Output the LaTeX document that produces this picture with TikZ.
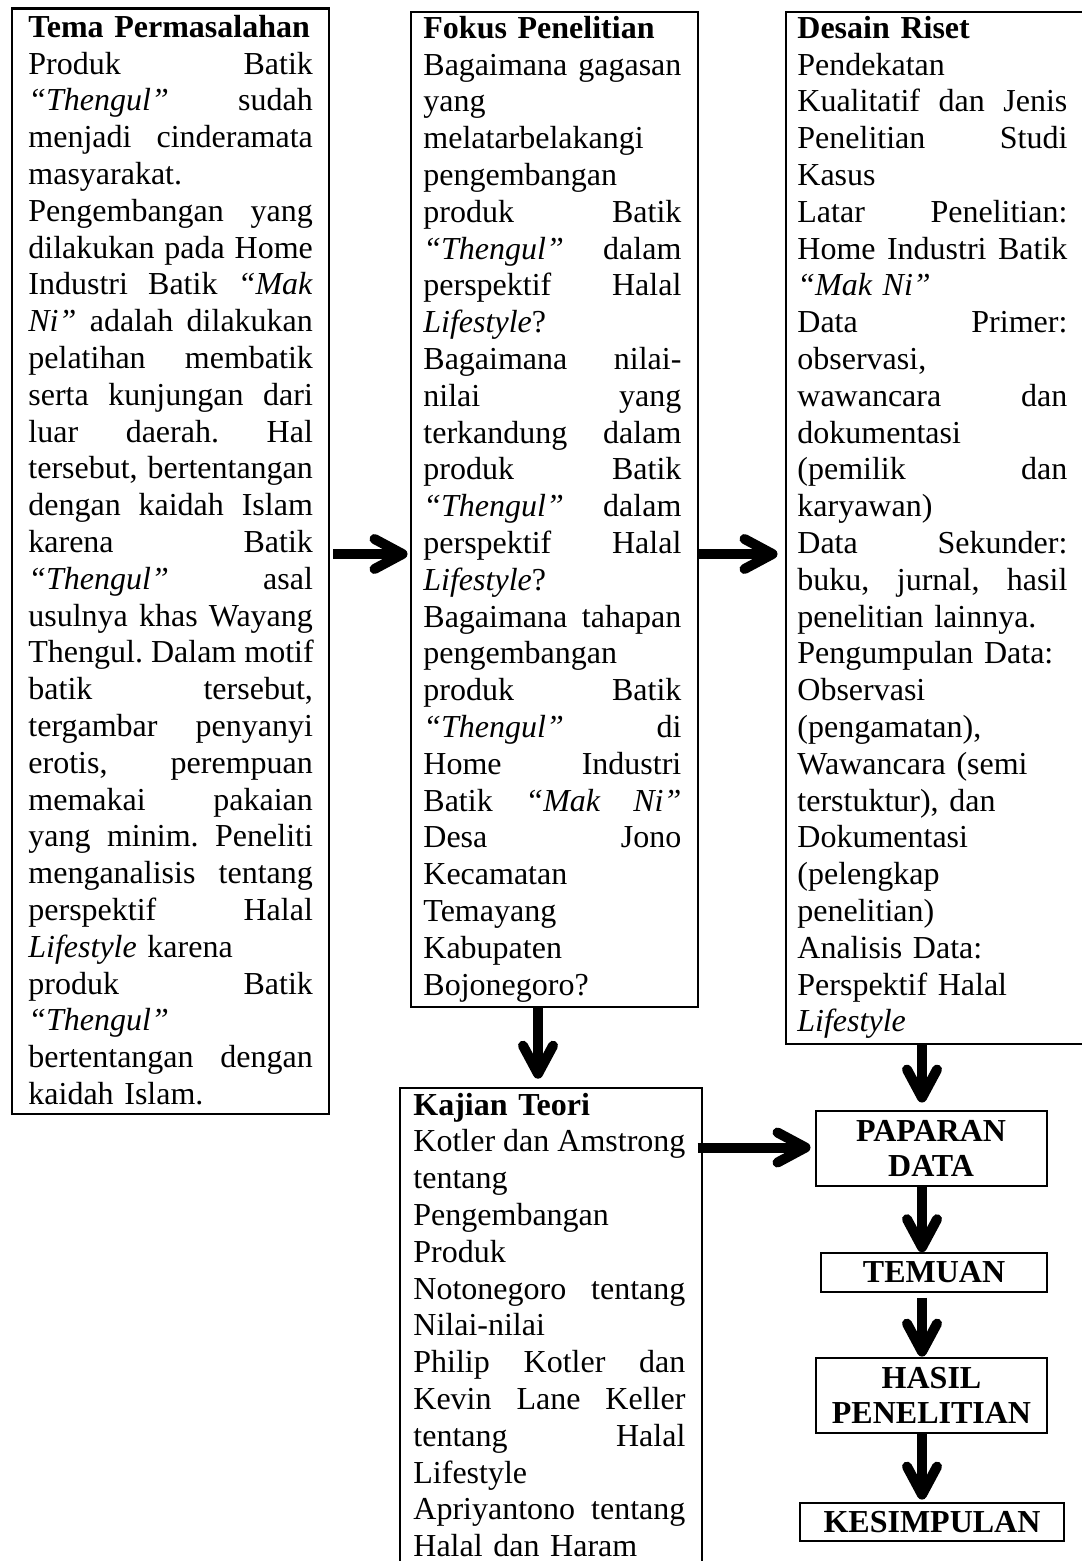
\documentclass[tikz,border=0pt]{standalone}
\usepackage{fontspec}
\setmainfont{Liberation Serif}
\usetikzlibrary{arrows.meta,calc}
\newcommand\Jl[1]{\leavevmode\hbox to \hsize{\spaceskip=0.25em plus 1fil\relax #1}}
\frenchspacing
\begin{document}
\begin{tikzpicture}[x=0.5pt,y=-0.5pt,
  boxline/.style={draw, line width=1.1pt},
  frame/.style={boxline, inner sep=0pt, anchor=north west},
  bodytext/.style={anchor=base west, inner sep=0pt, align=left,
    font=\fontsize{16}{18.4}\selectfont},
  result/.style={boxline, inner sep=0pt, align=center,
    font=\bfseries\fontsize{16}{17.5}\selectfont},
  bigarrow/.style={line width=5pt,
    -{Straight Barb[length=14pt,width=15pt,line width=5pt,round]}}]
\fill[white] (0,0) rectangle (1081,1561);
\useasboundingbox (0,0) rectangle (1081,1561);

% frames
\node[frame, minimum width=158.75pt, minimum height=552.75pt] (box1) at (10.5,7.5) {};
\node[frame, minimum width=143.5pt, minimum height=497.25pt] (box2) at (409.5,11) {};
\node[frame, minimum width=152.75pt, minimum height=516pt] (box3) at (784.5,11) {};
\node[frame, minimum width=151pt, minimum height=246.65pt] (kajian) at (398.5,1086.7) {};

% texts
\node[bodytext, text width=142.25pt] (t1) at (28,37.3) {%
\textbf{Tema Permasalahan}\\
\Jl{Produk Batik}\\
\Jl{\textit{“Thengul”} sudah}\\
\Jl{menjadi cinderamata}\\
masyarakat.\\
\Jl{Pengembangan yang}\\
\Jl{dilakukan pada Home}\\
\Jl{Industri Batik \textit{“Mak}}\\
\Jl{\textit{Ni”} adalah dilakukan}\\
\Jl{pelatihan membatik}\\
\Jl{serta kunjungan dari}\\
\Jl{luar daerah. Hal}\\
\Jl{tersebut, bertentangan}\\
\Jl{dengan kaidah Islam}\\
\Jl{karena Batik}\\
\Jl{\textit{“Thengul”} asal}\\
\Jl{usulnya khas Wayang}\\
\Jl{Thengul. Dalam motif}\\
\Jl{batik tersebut,}\\
\Jl{tergambar penyanyi}\\
\Jl{erotis, perempuan}\\
\Jl{memakai pakaian}\\
\Jl{yang minim. Peneliti}\\
\Jl{menganalisis tentang}\\
\Jl{perspektif Halal}\\
\textit{Lifestyle} karena\\
\Jl{produk Batik}\\
\textit{“Thengul”}\\
\Jl{bertentangan dengan}\\
kaidah Islam.};

\node[bodytext, text width=129pt] (t2) at (423,38.3) {%
\textbf{Fokus Penelitian}\\
\Jl{Bagaimana gagasan}\\
yang\\
melatarbelakangi\\
pengembangan\\
\Jl{produk Batik}\\
\Jl{\textit{“Thengul”} dalam}\\
\Jl{perspektif Halal}\\
\textit{Lifestyle}?\\
\Jl{Bagaimana nilai-}\\
\Jl{nilai yang}\\
\Jl{terkandung dalam}\\
\Jl{produk Batik}\\
\Jl{\textit{“Thengul”} dalam}\\
\Jl{perspektif Halal}\\
\textit{Lifestyle}?\\
\Jl{Bagaimana tahapan}\\
pengembangan\\
\Jl{produk Batik}\\
\Jl{\textit{“Thengul”} di}\\
\Jl{Home Industri}\\
\Jl{Batik \textit{“Mak} \textit{Ni”}}\\
\Jl{Desa Jono}\\
Kecamatan\\
Temayang\\
Kabupaten\\
Bojonegoro?};

\node[bodytext, text width=135pt] (t3) at (797,38.3) {%
\textbf{Desain Riset}\\
Pendekatan\\
\Jl{Kualitatif dan Jenis}\\
\Jl{Penelitian Studi}\\
Kasus\\
\Jl{Latar Penelitian:}\\
\Jl{Home Industri Batik}\\
\textit{“Mak Ni”}\\
\Jl{Data Primer:}\\
observasi,\\
\Jl{wawancara dan}\\
dokumentasi\\
\Jl{(pemilik dan}\\
karyawan)\\
\Jl{Data Sekunder:}\\
\Jl{buku, jurnal, hasil}\\
penelitian lainnya.\\
Pengumpulan Data:\\
Observasi\\
(pengamatan),\\
Wawancara (semi\\
terstuktur), dan\\
Dokumentasi\\
(pelengkap\\
penelitian)\\
Analisis Data:\\
Perspektif Halal\\
\textit{Lifestyle}};

\node[bodytext, text width=136pt] (t4) at (413,1115) {%
\textbf{Kajian Teori}\\
\Jl{Kotler dan Amstrong}\\
tentang\\
Pengembangan\\
Produk\\
\Jl{Notonegoro tentang}\\
Nilai-nilai\\
\Jl{Philip Kotler dan}\\
\Jl{Kevin Lane Keller}\\
\Jl{tentang Halal}\\
Lifestyle\\
\Jl{Apriyantono tentang}\\
Halal dan Haram};

% result boxes
\node[result, minimum width=115.5pt, minimum height=37.65pt] (paparan) at (931.1,1148.3) {PAPARAN\\DATA};
\node[result, minimum width=113.3pt, minimum height=19.2pt] (temuan) at (934,1272.5) {TEMUAN};
\node[result, minimum width=115.8pt, minimum height=37.8pt] (hasil) at (931.5,1395.5) {HASIL\\PENELITIAN};
\node[result, minimum width=132pt, minimum height=19pt] (kesimpulan) at (932,1521.7) {KESIMPULAN};

% guide coordinates
\coordinate (yA) at (0,554);
\coordinate (xC) at (538,0);
\coordinate (xD) at (922,0);
\coordinate (yE) at (0,1147.5);

% arrows
\draw[bigarrow, shorten <=1.5pt, shorten >=1pt] (box1.east |- yA) -- (box2.west |- yA);
\draw[bigarrow, shorten >=3.5pt] (box2.east |- yA) -- (box3.west |- yA);
\draw[bigarrow, shorten >=4pt] (box2.south -| xC) -- (kajian.north -| xC);
\draw[bigarrow, shorten >=3.5pt] (box3.south -| xD) -- (paparan.north -| xD);
\draw[bigarrow, shorten <=-2.5pt, shorten >=2pt] (kajian.east |- yE) -- (paparan.west |- yE);
\draw[bigarrow] (paparan.south -| xD) -- (temuan.north -| xD);
\draw[bigarrow, shorten <=2.5pt] (temuan.south -| xD) -- (hasil.north -| xD);
\draw[bigarrow, shorten >=1pt] (hasil.south -| xD) -- (kesimpulan.north -| xD);
\end{tikzpicture}
\end{document}
